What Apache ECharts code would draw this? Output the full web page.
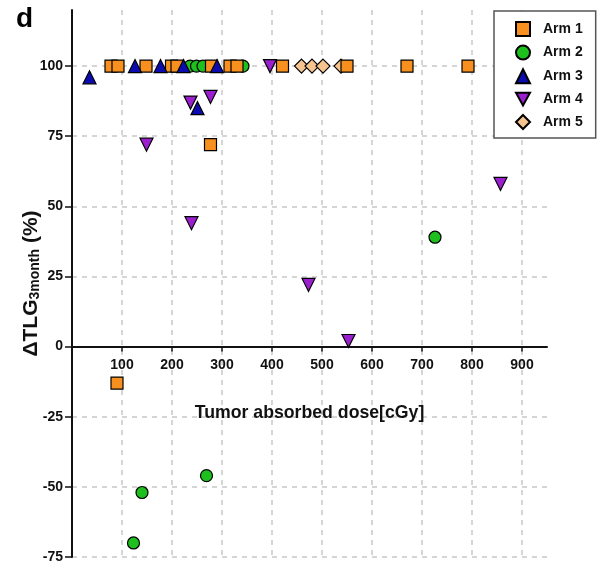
<!DOCTYPE html>
<html lang="en">
<head>
<meta charset="UTF-8">
<title>Arm dose scatter</title>
<script src="https://cdn.jsdelivr.net/npm/echarts@6.0.0/dist/echarts.min.js"></script>
<style>
  html, body { margin: 0; padding: 0; background: #fff; }
</style>
</head>
<body>
<div id="chart" style="width:607px; height:568px;"></div>
<script>
// tumor absorbed dose (cGy), delta TLG 3 month (%)
var arm1 = [[78,100],[92,100],[148,100],[199,100],[210,100],[279,100],[316,100],[330,100],
            [421,100],[550,100],[670,100],[792,100],[277,72],[90,-13]];
var arm2 = [[236,100],[249,100],[262,100],[342,100],[726,39],[140,-52],[123,-70],[269,-46]];
var arm3 = [[35,96],[126,100],[177,100],[223,100],[290,100],[251,85]];
var arm4 = [[396,100],[237,87],[277,89],[149,72],[239,44],[473,22],[553,2],[857,58]];
var arm5 = [[459,100],[480,100],[502,100],[538,100]];

var armNames = ["Arm 1", "Arm 2", "Arm 3", "Arm 4", "Arm 5"];
var xTicks = [0,100,200,300,400,500,600,700,800,900,950];
var yTicks = [-75,-50,-25,0,25,50,75,100,120];

var font = "Liberation Sans";
var grid = "#c8c8c8";
// hide grid lines at axis ends
var xGridColors = xTicks.map(function (v, i) { return (i === 0 || i === xTicks.length - 1) ? "transparent" : grid; });
var yGridColors = yTicks.map(function (v, i) { return (i === yTicks.length - 1) ? "transparent" : grid; });

// grid box, used to lift the x axis up to y = 0
var gTop = 10, gBottom = 11, chartH = 568;
var yMin = yTicks[0], yMax = yTicks[yTicks.length - 1];
var plotH = chartH - gTop - gBottom;
var zeroLift = plotH * (0 - yMin) / (yMax - yMin);

function arm(name, data, symbol, color, size) {
  return {
    name: name,
    type: "scatter",
    data: data,
    symbol: symbol,
    symbolSize: size,
    itemStyle: { color: color, borderColor: "#000", borderWidth: 1.2, opacity: 1 },
    emphasis: { disabled: true }
  };
}

var chart = echarts.init(document.getElementById("chart"));
var option = {
  animation: false,
  textStyle: { fontFamily: font },
  grid: { left: 72, right: 60, top: gTop, bottom: gBottom, outerBoundsMode: "none", containLabel: false },
  graphic: [{
    type: "text", left: 16, top: 5,
    style: { text: "d", font: "bold 28px " + font, fill: "#000" }
  }],
  legend: {
    data: armNames,
    orient: "vertical",
    left: 494, top: 11,
    padding: [10, 13, 8, 21],
    itemWidth: 14, itemHeight: 14, itemGap: 7.6,
    borderColor: "#555", borderWidth: 1.5,
    backgroundColor: "#fff",
    textStyle: { fontFamily: font, fontWeight: "bold", fontSize: 14, color: "#111", padding: [0, 0, 0, 8] }
  },
  xAxis: {
    type: "value",
    min: 0, max: 950, interval: 100,
    offset: -zeroLift,
    name: "Tumor absorbed dose[cGy]",
    nameLocation: "middle", nameGap: 58,
    nameTextStyle: { fontFamily: font, fontWeight: "bold", fontSize: 17.7, color: "#111" },
    axisLine: { onZero: false, lineStyle: { color: "#111", width: 2 } },
    axisTick: { show: true, length: 5, lineStyle: { color: "#111", width: 1.5 } },
    axisLabel: { showMinLabel: false, showMaxLabel: false, margin: 12,
      fontFamily: font, fontWeight: "bold", fontSize: 14, color: "#111" },
    splitLine: { show: true, lineStyle: { color: xGridColors, type: [5, 5], width: 1.5 } }
  },
  yAxis: {
    type: "value",
    min: yMin, max: yMax, interval: 25,
    name: "{a|ΔTLG}{b|3month}{a| (%)}",
    nameLocation: "middle", nameGap: 30, nameRotate: 90, nameMoveOverlap: false,
    nameTextStyle: {
      rich: {
        a: { fontFamily: font, fontWeight: "bold", fontSize: 21, color: "#111", verticalAlign: "bottom", lineHeight: 26 },
        b: { fontFamily: font, fontWeight: "bold", fontSize: 14, color: "#111", verticalAlign: "bottom", lineHeight: 19 }
      }
    },
    axisLine: { onZero: false, lineStyle: { color: "#111", width: 2 } },
    axisTick: { show: true, length: 7, lineStyle: { color: "#111", width: 1.5 } },
    axisLabel: { showMaxLabel: false, margin: 9,
      fontFamily: font, fontWeight: "bold", fontSize: 14, color: "#111" },
    splitLine: { show: true, lineStyle: { color: yGridColors, type: [5, 5], width: 1.5 } }
  },
  series: [
    arm("Arm 5", arm5, "diamond", "#F5C48F", 14),
    arm("Arm 2", arm2, "circle", "#1EC01E", 12),
    arm("Arm 1", arm1, "rect", "#F7901E", 12),
    arm("Arm 3", arm3, "triangle", "#0B0BAF", 13),
    arm("Arm 4", arm4, "path://M0,0 L10,0 L5,9 Z", "#9B1FCF", 13)
  ]
};
chart.setOption(option);
</script>
</body>
</html>
